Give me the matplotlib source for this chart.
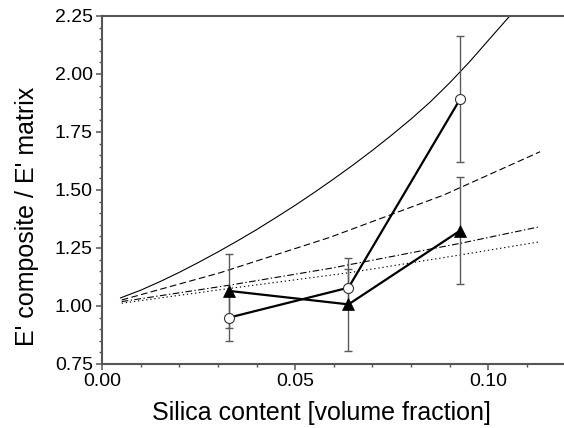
import matplotlib
matplotlib.use("Agg")
import matplotlib.pyplot as plt
from matplotlib.ticker import MultipleLocator

plt.rcParams['font.family'] = ['Liberation Sans', 'DejaVu Sans']

# Measured storage modulus ratios (mean and standard deviation)
silica = [0.0329, 0.0638, 0.0927]
ratio_open = [0.950, 1.079, 1.892]
err_open = [0.10, 0.08, 0.27]
ratio_filled = [1.065, 1.007, 1.325]
err_filled = [0.16, 0.20, 0.23]

# Model predictions
model_a_x = [0.0048, 0.010, 0.015, 0.020, 0.025, 0.030, 0.035, 0.040, 0.045, 0.050,
             0.055, 0.060, 0.065, 0.070, 0.075, 0.080, 0.085, 0.090, 0.095, 0.100, 0.1056]
model_a_y = [1.035, 1.068, 1.105, 1.145, 1.188, 1.233, 1.280, 1.329, 1.381, 1.434,
             1.490, 1.548, 1.608, 1.671, 1.737, 1.806, 1.880, 1.962, 2.050, 2.145, 2.251]
model_b_x = [0.0051, 0.0305, 0.059, 0.0884, 0.1134]
model_b_y = [1.026, 1.143, 1.296, 1.478, 1.665]
model_c_x = [0.0051, 0.0331, 0.059, 0.0927, 0.1134]
model_c_y = [1.019, 1.090, 1.162, 1.270, 1.342]
model_d_x = [0.0051, 0.0331, 0.0642, 0.0927, 0.1134]
model_d_y = [1.012, 1.076, 1.144, 1.220, 1.277]

fig = plt.figure(figsize=(5.64, 4.28), dpi=100)
ax = fig.add_axes([102 / 564, 64 / 428, 463.6 / 564, 348 / 428])

ax.plot(model_a_x, model_a_y, color='black', lw=0.8, ls='-', zorder=2)
ax.plot(model_b_x, model_b_y, color='black', lw=0.8, ls=(0, (6, 3)), zorder=2)
ax.plot(model_c_x, model_c_y, color='black', lw=0.8, ls=(0, (6, 2.2, 1.2, 2.2)), zorder=2)
ax.plot(model_d_x, model_d_y, color='black', lw=0.8, ls=(0, (1.2, 2.5)), zorder=2)

ebkw = dict(fmt='none', ecolor='#5a5a5a', elinewidth=1.0, capsize=2.6, capthick=1.0, zorder=3)
ax.errorbar(silica, ratio_open, yerr=err_open, **ebkw)
ax.errorbar(silica, ratio_filled, yerr=err_filled, **ebkw)

ax.plot(silica, ratio_open, color='black', lw=1.6, zorder=4)
ax.plot(silica, ratio_filled, color='black', lw=1.6, zorder=4)
ax.plot(silica, ratio_open, ls='none', marker='o', ms=7.2, mfc='white',
        mec='#333333', mew=0.8, zorder=5)
ax.plot(silica, ratio_filled, ls='none', marker='^', ms=8.2, mfc='black',
        mec='black', mew=0.5, zorder=5)

ax.set_xlim(0, 0.12)
ax.set_ylim(0.75, 2.25)
ax.xaxis.set_major_locator(MultipleLocator(0.05))
ax.xaxis.set_minor_locator(MultipleLocator(0.01))
ax.yaxis.set_major_locator(MultipleLocator(0.25))
ax.yaxis.set_minor_locator(MultipleLocator(0.05))
ax.set_xticks([0.0, 0.05, 0.10])
ax.set_xticklabels(['0.00', '0.05', '0.10'])
ax.set_yticklabels([f'{v:.2f}' for v in ax.get_yticks()])

spine_color = '#555555'
ax.spines['right'].set_visible(False)
for side in ('left', 'top', 'bottom'):
    ax.spines[side].set_color(spine_color)
    ax.spines[side].set_linewidth(1.5)

ax.tick_params(axis='both', which='major', direction='out', length=4.5, width=1.1,
               color=spine_color, labelsize=14, labelcolor='black', pad=2)
ax.tick_params(axis='both', which='minor', direction='out', length=2.5, width=1.0,
               color=spine_color)
ax.tick_params(axis='x', which='both', top=False)

ax.set_xlabel('Silica content [volume fraction]', fontsize=18)
ax.set_ylabel("E' composite / E' matrix", fontsize=18)
ax.xaxis.set_label_coords(0.4735, -0.105)
ax.yaxis.set_label_coords(-0.135, 0.424)

fig.savefig('out.png', dpi=100)
